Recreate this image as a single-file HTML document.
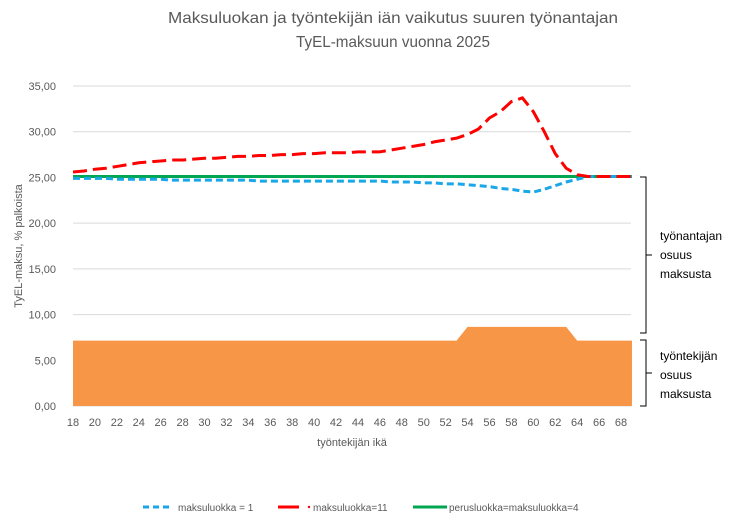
<!DOCTYPE html>
<html><head><meta charset="utf-8"><style>
body{margin:0;background:#fff;}
svg{display:block;font-family:"Liberation Sans",sans-serif;}
</style></head><body>
<svg id="c" width="754" height="520">
<text x="393" y="23" text-anchor="middle" font-size="16" fill="#595959" textLength="450" lengthAdjust="spacingAndGlyphs">Maksuluokan ja työntekijän iän vaikutus suuren työnantajan</text>
<text x="393" y="47" text-anchor="middle" font-size="16" fill="#595959" textLength="194" lengthAdjust="spacingAndGlyphs">TyEL-maksuun vuonna 2025</text>
<g id="g"></g>
<text transform="translate(22,246) rotate(-90)" text-anchor="middle" font-size="11" fill="#595959">TyEL-maksu, % palkoista</text>
<text x="352" y="446" text-anchor="middle" font-size="11" fill="#595959">työntekijän ikä</text>
<path d="M640,177 H646 V333 H640 M646,255 H652" fill="none" stroke="#000" stroke-width="1"/>
<path d="M640,340 H646 V406 H640 M646,373 H652" fill="none" stroke="#000" stroke-width="1"/>
<g font-size="12" fill="#000">
<text x="660" y="240">työnantajan</text><text x="660" y="259">osuus</text><text x="660" y="278">maksusta</text></g>
<g font-size="12" fill="#000">
<text x="660" y="360">työntekijän</text><text x="660" y="379">osuus</text><text x="660" y="398">maksusta</text></g>
<g font-size="10" fill="#595959">
<g><line x1="143" y1="507" x2="173" y2="507" stroke="#1aa7e8" stroke-width="3" stroke-dasharray="6,4"/><text x="178" y="511">maksuluokka = 1</text></g>
<g><line x1="278" y1="507" x2="299" y2="507" stroke="#f00" stroke-width="3"/><circle cx="309" cy="507" r="1.2" fill="#f00"/><text x="313" y="511">maksuluokka=11</text></g>
<g><line x1="413" y1="507" x2="447" y2="507" stroke="#00a650" stroke-width="3"/><text x="449" y="511">perusluokka=maksuluokka=4</text></g>
</g>
</svg>
<script>
const ages=[18,19,20,21,22,23,24,25,26,27,28,29,30,31,32,33,34,35,36,37,38,39,40,41,42,43,44,45,46,47,48,49,50,51,52,53,54,55,56,57,58,59,60,61,62,63,64,65,66,67,68,69];
const employee=[7.15,7.15,7.15,7.15,7.15,7.15,7.15,7.15,7.15,7.15,7.15,7.15,7.15,7.15,7.15,7.15,7.15,7.15,7.15,7.15,7.15,7.15,7.15,7.15,7.15,7.15,7.15,7.15,7.15,7.15,7.15,7.15,7.15,7.15,7.15,7.15,8.65,8.65,8.65,8.65,8.65,8.65,8.65,8.65,8.65,8.65,7.15,7.15,7.15,7.15,7.15,7.15];
const class11=[25.6,25.7,25.9,26.0,26.2,26.4,26.6,26.7,26.8,26.9,26.9,27.0,27.1,27.1,27.2,27.3,27.3,27.4,27.4,27.5,27.5,27.6,27.6,27.7,27.7,27.7,27.8,27.8,27.8,28.0,28.2,28.4,28.6,28.9,29.1,29.3,29.7,30.3,31.5,32.2,33.3,33.7,32.2,30.0,27.6,26.0,25.3,25.1,25.1,25.1,25.1,25.1];
const class1=[24.9,24.9,24.9,24.9,24.8,24.8,24.8,24.8,24.8,24.7,24.7,24.7,24.7,24.7,24.7,24.7,24.7,24.6,24.6,24.6,24.6,24.6,24.6,24.6,24.6,24.6,24.6,24.6,24.6,24.5,24.5,24.5,24.4,24.4,24.3,24.3,24.2,24.1,24.0,23.8,23.7,23.5,23.4,23.7,24.1,24.5,24.8,25.1,25.1,25.1,25.1,25.1];
const base=ages.map(()=>25.1);
const yTicks=[0,5,10,15,20,25,30,35];
const yLabels=["0,00","5,00","10,00","15,00","20,00","25,00","30,00","35,00"];
const xTickAges=[18,20,22,24,26,28,30,32,34,36,38,40,42,44,46,48,50,52,54,56,58,60,62,64,66,68];
const NS="http://www.w3.org/2000/svg",g=document.getElementById('g');
const X=a=>73+(a-18)*10.96, Y=v=>406-v*(320/35);
function el(t,at){const e=document.createElementNS(NS,t);for(const k in at)e.setAttribute(k,at[k]);g.appendChild(e);return e;}
yTicks.forEach((v,i)=>{const gl=el('line',{x1:73,x2:631,y1:Y(v),y2:Y(v),stroke:'#d9d9d9','stroke-width':1});

const t=el('text',{x:56,y:Y(v)+4,'text-anchor':'end','font-size':11,fill:'#595959'});t.textContent=yLabels[i];
});
let d='M'+X(ages[0])+','+Y(0);ages.forEach((a,i)=>d+=' L'+X(a)+','+Y(employee[i]));d+=' L'+X(ages[ages.length-1])+','+Y(0)+'Z';
const ar=el('path',{d:d,fill:'#f79646'});
xTickAges.forEach(a=>{const t=el('text',{x:X(a),y:426,'text-anchor':'middle','font-size':11,fill:'#595959'});t.textContent=a;
});
function line(vals,col,dash,w,name){const p=el('path',{d:ages.map((a,i)=>(i?'L':'M')+X(a)+','+Y(vals[i])).join(' '),fill:'none',stroke:col,'stroke-width':w,'stroke-dasharray':dash});
}
line(base,'#00a650','none',3,'line-base-class');
line(class1,'#1aa7e8','7,4',3,'line-class1');
line(class11,'#f00','14,6',3,'line-class11');
</script>
</body></html>
